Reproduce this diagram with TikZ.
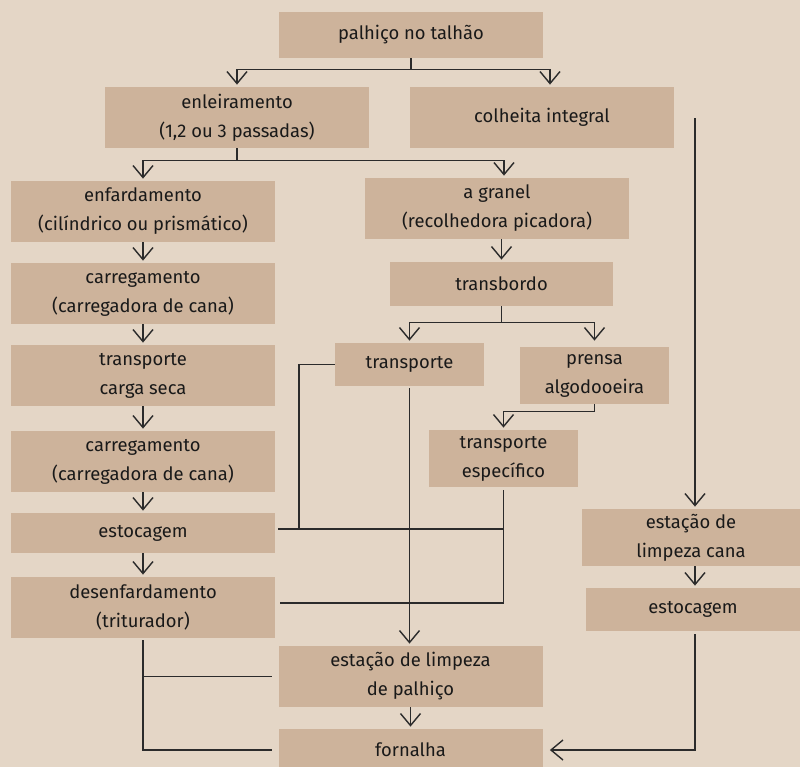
\documentclass[tikz,border=0pt]{standalone}
\usepackage{fontspec}
\setmainfont{Fira Sans}
\usetikzlibrary{arrows.meta}
\definecolor{bgcolor}{HTML}{E4D6C6}
\definecolor{boxcolor}{HTML}{CDB39B}
\definecolor{linecolor}{HTML}{2B2B2B}

\begin{document}
\begin{tikzpicture}[x=.5pt, y=-.5pt,
	stage/.style={fill=boxcolor, minimum width=132pt, minimum height=30.5pt, inner sep=0, align=center, text=black!90},
	small/.style={minimum width=74.5pt, minimum height=28.5pt},
	link/.style={line width=.7pt, draw=linecolor},
	flow/.style={link, -{Straight Barb[length=6pt, width=10pt]}, shorten >=1pt},
	every node/.style={font=\fontsize{9.2}{14.5}\selectfont}
	]
	\useasboundingbox (0,0) rectangle (800,767);
	\fill [bgcolor] (0,0) rectangle (800,767);
	
	\node (palhico) at (411,35) [stage, minimum height=23pt] {palhiço no talhão};
	\node (enleir) at (237,117.5) [stage] {enleiramento\\(1,2 ou 3 passadas)};
	\node (colheita) at (542,117.5) [stage] {colheita integral};
	
	\node (enfard) at (143,211.5) [stage] {enfardamento\\(cilíndrico ou prismático)};
	\node (carreg1) at (143,293.5) [stage] {carregamento\\(carregadora de cana)};
	\node (transpc) at (143,375.5) [stage] {transporte\\carga seca};
	\node (carreg2) at (143,461.5) [stage] {carregamento\\(carregadora de cana)};
	\node (estocL) at (143,533) [stage, minimum height=20pt] {estocagem};
	\node (desenf) at (143,607.5) [stage] {desenfardamento\\(triturador)};
	
	\node (granel) at (497,208.5) [stage] {a granel\\(recolhedora picadora)};
	\node (transb) at (501.5,284) [stage, minimum width=111.5pt, minimum height=22pt] {transbordo};
	\node (transp) at (409.5,364.5) [stage, small, minimum height=21.5pt] {transporte};
	\node (prensa) at (594.5,375.5) [stage, small] {prensa\\algodooeira};
	\node (tesp) at (503.5,458.5) [stage, small] {transporte\\específico};
	
	\node (estcana) at (691,537.5) [stage, minimum width=109pt, minimum height=28.5pt] {estação de\\limpeza cana};
	\node (estocR) at (693,609.5) [stage, minimum width=107pt, minimum height=21.5pt] {estocagem};
	
	\node (palha) at (410.5,676.5) [stage] {estação de limpeza\\de palhiço};
	\node (fornalha) at (410.5,750) [stage, minimum height=21pt] {fornalha};
	
	\coordinate (jt) at (299,529);
	\coordinate (jd) at (280,603);
	\coordinate (jc) at (695,118);
	
	\draw [flow] (palhico.south) -- ++(0,11) -| (enleir.north);
	\draw [flow] (palhico.south) -- ++(0,11) -| ([xshift=4pt]colheita.north);
	\draw [flow] (enleir.south) -- ++(0,12) -| (enfard.north);
	\draw [flow] (enleir.south) -- ++(0,12) -| ([xshift=3.5pt]granel.north);
	
	\draw [flow] (enfard) -- (carreg1);
	\draw [flow] (carreg1) -- (transpc);
	\draw [flow] (transpc) -- (carreg2);
	\draw [flow] (carreg2) -- (estocL);
	\draw [flow] (estocL) -- (desenf);
	
	\draw [flow] (transb.north |- granel.south) -- (transb.north);
	\draw [flow] (transb.south) -- ++(0,16) -| (transp.north);
	\draw [flow] (transb.south) -- ++(0,16) -| (prensa.north |- transp.north);
	\draw [flow] (prensa.south) -- ++(0,7) -| (tesp.north);
	
	\draw [link] (transp.west) -| (jt);
	\draw [link] (estocL.east |- jt) ++(3,0) -- (tesp.south |- jt);
	\draw [link] (tesp.south) ++(0,3) |- (jd);
	\draw [flow] (transp.south) ++(0,2) -- (transp.south |- palha.north);
	\draw [flow] (palha) -- (fornalha);
	\draw [link] (desenf.south) ++(0,2) |- ([xshift=-3pt]fornalha.west);
	\draw [link] (desenf.south |- palha.west) -- ([xshift=-3pt]palha.west);
	
	\draw [flow] (jc) -- (jc |- estcana.north);
	\draw [flow] (jc |- estcana.south) -- (jc |- estocR.north);
	\draw [flow] (jc |- estocR.south) ++(0,3) |- ([xshift=2.5pt]fornalha.east);
\end{tikzpicture}
\end{document}
